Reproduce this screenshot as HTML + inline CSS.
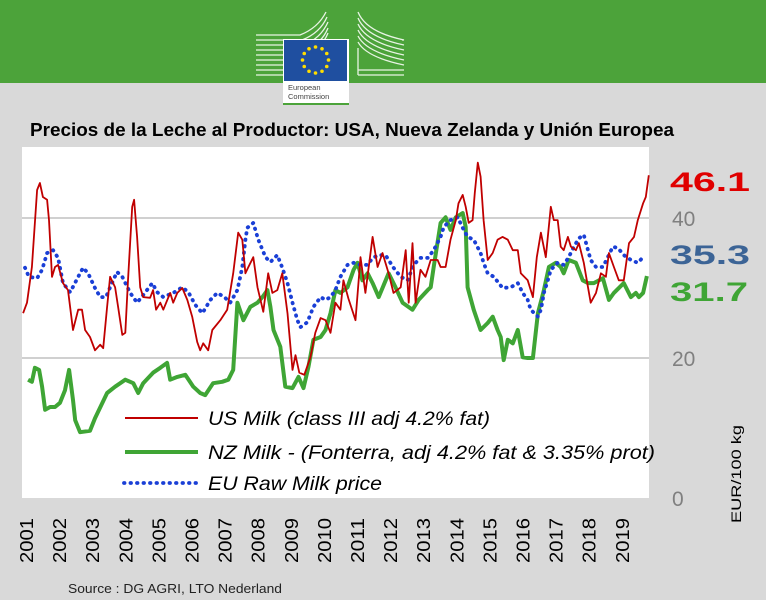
<!DOCTYPE html>
<html><head><meta charset="utf-8"><style>
html,body{margin:0;padding:0;background:#d9d9d9;}
svg{display:block;font-family:"Liberation Sans",sans-serif;}
</style></head><body>
<svg id="c" width="766" height="600" viewBox="0 0 766 600">
<rect x="0" y="0" width="766" height="600" fill="#d9d9d9"/>
<g>
<rect x="0" y="0" width="766" height="83" fill="#4ca33a"/>
<g stroke="#e8f4e4" stroke-width="1.3" fill="none">
<path d="M256 35 H300 Q318 28 326 12"/><path d="M256 40 H302 Q320 33 327 17"/><path d="M256 45 H304 Q321 38 328 22"/><path d="M256 50 H306 Q322 43 328 28"/><path d="M256 55 H306 Q322 48 328 33"/><path d="M256 60 H306 Q322 53 328 39"/><path d="M256 65 H306"/><path d="M256 70 H306"/><path d="M256 75 H306"/>
<path d="M358 12 Q366 32 404 40 H402"/><path d="M358 18 Q366 37 404 45"/><path d="M358 24 Q366 42 404 50"/><path d="M358 30 Q366 47 404 55"/><path d="M358 36 Q366 52 404 60"/><path d="M358 42 Q366 57 404 65"/><path d="M358 48 V75 M358 70 H404 M358 75 H404"/>
</g>
<rect x="283" y="39" width="66" height="66" fill="#fff"/>
<rect x="284" y="40" width="63" height="41" fill="#1f4fa0"/>
<g fill="#ffdd00" id="stars"></g>
<text x="288" y="90" font-size="7.5" fill="#444">European</text>
<text x="288" y="99" font-size="7.5" fill="#444">Commission</text>
<rect x="283" y="103" width="66" height="2" fill="#4ca33a"/>
</g>
<text x="30" y="136" font-size="18" font-weight="bold" fill="#000" textLength="644" lengthAdjust="spacingAndGlyphs">Precios de la Leche al Productor: USA, Nueva Zelanda y Unión Europea</text>
<rect x="22" y="147" width="627" height="351" fill="#fff"/>
<g id="grid"></g>
<g id="series"></g>
<g>
<line x1="125" y1="418" x2="198" y2="418" stroke="#c00000" stroke-width="2"/>
<text x="208" y="425" font-size="19" font-style="italic" textLength="282" lengthAdjust="spacingAndGlyphs">US Milk (class III adj 4.2% fat)</text>
<line x1="125" y1="452" x2="198" y2="452" stroke="#3fa535" stroke-width="4"/>
<text x="208" y="459" font-size="19" font-style="italic" textLength="447" lengthAdjust="spacingAndGlyphs">NZ Milk - (Fonterra, adj 4.2% fat &amp; 3.35% prot)</text>
<line x1="124" y1="483" x2="198" y2="483" stroke="#1a3fd6" stroke-width="3.8" stroke-dasharray="0.5 6" stroke-linecap="round"/>
<text x="208" y="490" font-size="19" font-style="italic" textLength="174" lengthAdjust="spacingAndGlyphs">EU Raw Milk price</text>
</g>
<g id="yaxis"></g>
<text x="670" y="191" font-size="27" font-weight="bold" fill="#e00000" textLength="80" lengthAdjust="spacingAndGlyphs">46.1</text>
<text x="670" y="264" font-size="27" font-weight="bold" fill="#3c6496" textLength="80" lengthAdjust="spacingAndGlyphs">35.3</text>
<text x="670" y="301" font-size="27" font-weight="bold" fill="#3fa535" textLength="78" lengthAdjust="spacingAndGlyphs">31.7</text>
<text transform="translate(741,523) rotate(-90)" font-size="14" fill="#000" textLength="98" lengthAdjust="spacingAndGlyphs">EUR/100 kg</text>
<g id="xaxis"></g>
<text x="68" y="593" font-size="13" fill="#222" textLength="214" lengthAdjust="spacingAndGlyphs">Source : DG AGRI, LTO Nederland</text>
</svg>
<script>
// months since Jan 2001, values in EUR/100kg
const usMonths=[0.4,1.8,3.6,5.5,6.5,7.6,9.1,9.8,10.9,12,13.1,14.9,16.7,18.5,20.4,21.8,22.9,24.7,26.5,28.4,29.5,30.9,32,33.8,34.9,36.4,37.5,38.5,40,40.7,41.8,42.9,44,46.5,47.6,48.7,50.2,51.3,53.8,54.9,56.4,58.2,60,61.8,63.6,64.7,65.8,67.6,69.1,72,74.5,76.7,78.5,80,81.1,82.2,84,85.5,87.6,89.4,90.9,92.7,94.5,96.4,98.2,99.3,100.7,102.5,104.7,106.5,108.4,110.2,112,113.8,115.6,116.7,118.5,121.1,122.9,124.7,127.3,129.1,130.9,133.1,134.9,137.5,139.3,140.4,141.8,142.9,144.7,146.5,148.4,150.9,152,153.8,155.6,157.5,158.5,160,161.1,162.2,163.6,164.4,165.5,166.5,167.6,169.1,170.9,172.7,174.5,176.4,178.2,180,181.1,183.6,185.5,186.9,188.4,190.2,192,193.1,194.5,195.6,196.7,198.2,199.3,201.1,202.2,204,205.5,206.5,208.4,210.2,212,213.1,214.9,216.7,218.5,220.4,222.2,223.6,225.5,226.5,227.6];
const usValues=[26.4,27.9,33,44,45,43,42.6,39.7,31.6,33,33.3,30.7,29.7,24,26.9,26.9,24,23,21.1,21.9,21.4,27.3,31.6,30.1,27.3,23.3,23.6,31.1,41.6,42.6,37.3,30.1,28.7,28.6,29.7,26.9,27.9,26.9,29.3,27.9,29.3,30,28.3,25.9,22.3,21.1,22.1,21.1,24,25.4,26.9,32.1,37.9,36.9,32.1,33,34.4,30.1,26.6,32.1,29.3,29.7,32.1,26.4,18.3,20.4,17.9,17.6,20.1,23.6,25.7,25.4,23.6,27.9,26.9,31.1,28.5,25.4,34.4,29.3,37.3,33,35,32.1,29.3,30.1,35.4,27.9,36.4,27.9,32.6,31.6,34,34,33,33,36.9,39.7,42.1,43.3,41.6,39.3,39.7,43.6,47.9,45.9,39.7,34,35,36.9,37.3,36.9,35.4,35.4,32.1,31.1,28.7,34.4,37.9,34.4,41.6,39.7,39.7,35.9,35.4,37.3,35.9,35.4,36.4,33.6,30.1,27.9,29.3,32.1,31.6,35,33,31.1,31.1,36.4,37.3,39.7,42.1,43,46.1];
const nzMonths=[2.2,3.6,4.7,6.2,7.3,8.4,10.2,12,13.8,15.6,17.1,18.5,19.3,21.1,24.7,26.5,30.9,33.8,37.5,40.4,42.2,44,47.6,50.2,52.7,53.8,56.4,59.3,62.2,64.7,66.5,69.4,72.7,74.9,76.7,78.2,80.4,82.9,85.5,87.3,89.1,90.2,91.3,93.8,95.6,98.2,100.4,102.2,104,105.8,108.4,110.2,112,113.8,115.6,118.2,120.4,121.8,123.6,125.5,127.3,129.5,133.1,135.6,138.2,141.8,144,147.3,148.4,149.5,152,153.8,155.6,157.5,160,161.1,161.8,164,166.5,169.1,170.9,172.7,173.8,174.9,176.4,178.2,180,181.8,183.6,185.5,187.3,189.5,191.3,193.8,195.6,196.7,198.5,201.1,203.6,205.5,207.6,210.9,213.1,214.9,218.5,221.1,222.9,224,225.5,226.9];
const nzValues=[16.9,16.6,18.6,18.3,15.9,12.6,13,13,13.6,15.4,18.3,14,11.1,9.4,9.6,11.4,15,15.9,16.9,16.4,15,16.4,17.9,18.6,19.3,16.9,17.3,17.6,15.9,15,14.7,16.4,16.6,16.9,18.3,27.9,25.4,27.3,27.9,28.7,29.7,27.3,24,21.6,15.9,15.7,17.3,15.7,18.7,22.6,23,24,26.4,29.7,29.3,30.1,32.6,33.6,31.1,32.1,30.7,28.7,32.1,30.1,27.9,26.9,28.3,29.7,30.1,33,39.3,40.1,38.3,40.1,40.7,38.7,30.1,26.9,24,25,25.9,24,23,19.7,22.6,22.1,24,20.1,20,20,26.4,29.7,33,33.6,33,32.1,34,33.6,31.1,30.7,30.7,31.4,28.3,29.3,30.7,28.7,29.3,28.7,29.3,31.7];
const euMonths=[1.1,2.5,5.5,7.3,9.1,11.3,13.1,14.9,17.5,20.4,22.2,24,26.5,28.4,30.5,32,34.5,36.4,39.3,41.8,44,47.3,49.1,51.3,54.9,58.2,60.4,62.9,65.5,68.4,70.9,73.5,75.6,78.2,80,81.1,81.8,84,85.8,88.4,90.2,92.7,94.5,96.4,98.2,100,101.1,103.6,105.8,108.4,110.2,112,113.8,115.6,118.2,120.4,122.9,125.5,127.3,129.5,132,134.9,137.5,140,142.2,144.7,147.3,149.5,152,153.1,155.6,158.2,160,161.8,164,166.5,167.6,169.1,171.3,174.5,177.5,180,181.8,183.6,184.7,187.3,188.4,189.5,190.9,192,194.5,196.7,198.5,200.4,202.2,204,205.5,206.5,208.4,210.9,212.7,214.5,216.4,218.5,221.1,223.6,225.5];
const euValues=[32.9,31.6,31.4,32.6,35,35.4,34.3,30.7,29.4,31.6,32.9,32.1,30,28.7,28.7,30.1,32.3,31.6,29.3,27.9,29,30.7,29.4,28.7,29.3,30.1,29.4,27.6,26.4,28.3,29.3,28.7,27.9,29.7,33,36.9,38.6,39.3,36.9,34.4,33.7,34.7,32.9,30.7,27.9,25.4,24.4,25.1,27.3,28.7,28.3,28.7,29.7,31.6,33.3,33.6,33.3,33.3,34.3,34.7,34.7,32.9,31.6,31.1,33.3,34.3,34.3,35.4,37.3,38.7,39.7,40.1,38.6,37.3,36.9,35,33.6,32.1,31.6,30,30.1,30.7,29.3,28.3,26.9,25.9,26.9,29.3,31.1,32.6,33.6,33.3,34.4,35.9,37.1,37.6,35.4,34,33,33,34.4,35.9,35.7,34.7,34,33.6,34.4];
const yTicks=[0,20,40];
const yearLabels=["2001","2002","2003","2004","2005","2006","2007","2008","2009","2010","2011","2012","2013","2014","2015","2016","2017","2018","2019"];

const NS="http://www.w3.org/2000/svg";
const X0=22, PXM=33.05/12, Y0=498, PXV=7;
function xs(m){return X0+m*PXM;}
function ys(v){return Y0-v*PXV;}
function mk(tag,attrs,parent){const e=document.createElementNS(NS,tag);for(const k in attrs)e.setAttribute(k,attrs[k]);parent.appendChild(e);return e;}

const st=document.getElementById('stars');
for(let i=0;i<12;i++){const a=i*Math.PI/6;
 const s=mk('circle',{cx:315.5+13*Math.sin(a),cy:60-13*Math.cos(a),r:1.8},st);
 
 }

const grid=document.getElementById('grid');
const yax=document.getElementById('yaxis');
yTicks.forEach(t=>{
 if(t>0){const l=mk('line',{x1:22,x2:649,y1:ys(t),y2:ys(t),stroke:'#d0d0d0','stroke-width':2},grid);
 
 }
 const tx=mk('text',{x:672,y:ys(t)+8,'font-size':21,fill:'#808080'},yax);
 tx.textContent=t;
 
 
});

function path(ms,vs){return ms.map((m,i)=>(i?'L':'M')+xs(m).toFixed(1)+' '+ys(vs[i]).toFixed(1)).join(' ');}
const sg=document.getElementById('series');
const nz=mk('path',{d:path(nzMonths,nzValues),fill:'none',stroke:'#3fa535','stroke-width':4,'stroke-linejoin':'round'},sg);


const eu=mk('path',{d:path(euMonths,euValues),fill:'none',stroke:'#1a3fd6','stroke-width':3.8,'stroke-dasharray':'0.5 6','stroke-linecap':'round','stroke-linejoin':'round'},sg);


const us=mk('path',{d:path(usMonths,usValues),fill:'none',stroke:'#c00000','stroke-width':1.8,'stroke-linejoin':'round'},sg);



const xa=document.getElementById('xaxis');
yearLabels.forEach((y,i)=>{
 const cx=26+i*33.1;
 const t=mk('text',{transform:'translate('+(cx+7)+',563) rotate(-90)','font-size':18,fill:'#000',textLength:45,lengthAdjust:'spacingAndGlyphs'},xa);
 t.textContent=y;
 
 
});
</script>
</body></html>
